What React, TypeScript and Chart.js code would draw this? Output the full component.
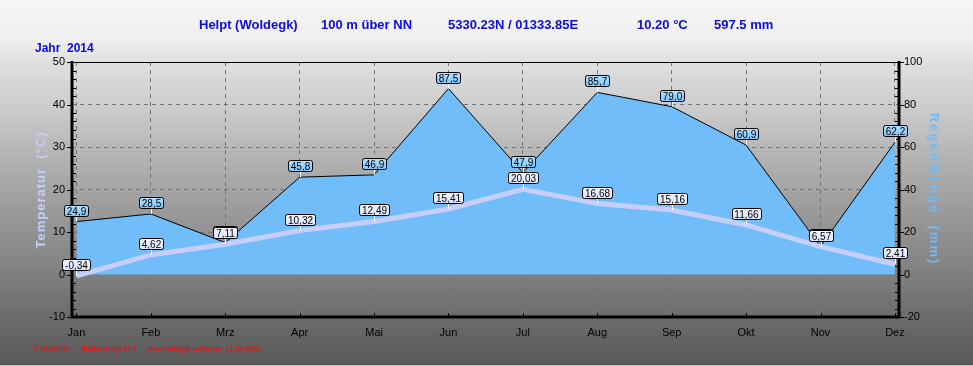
import React, { useEffect, useRef } from "react";
import { Chart, registerables } from "chart.js";

Chart.register(...registerables);

const months = ["Jan", "Feb", "Mrz", "Apr", "Mai", "Jun", "Jul", "Aug", "Sep", "Okt", "Nov", "Dez"];
const rain = [24.9, 28.5, 15.0, 45.8, 46.9, 87.5, 47.9, 85.7, 79.0, 60.9, 13.2, 62.2];
const temp = [-0.34, 4.62, 7.11, 10.32, 12.49, 15.41, 20.03, 16.68, 15.16, 11.66, 6.57, 2.41];
const tempTicks = { min: -10, max: 50, step: 10 };
const rainTicks = { min: -20, max: 100, step: 20 };
const titleParts = [
  { text: "Helpt (Woldegk)", x: 199 },
  { text: "100 m über NN", x: 321 },
  { text: "5330.23N / 01333.85E", x: 448 },
  { text: "10.20 °C", x: 637 },
  { text: "597.5 mm", x: 714 },
];
const yearLabel = "Jahr  2014";
const leftTitle = "Temperatur  (°C)";
const rightTitle = "Regenmenge  (mm)";
const footer = "© WsWin32  -  Station Helpt M-V  -  www.woldegk-wetter.de  11.04.2022";

const FONT = "'Liberation Sans', Arial, sans-serif";

function fmt(v: number, d: number) {
  return v.toFixed(d).replace(".", ",");
}

function drawLabel(ctx: CanvasRenderingContext2D, x: number, y: number, text: string, fill: string, fillTop: string) {
  ctx.save();
  ctx.font = `10px ${FONT}`;
  const w = Math.round(ctx.measureText(text).width) + 5;
  const h = 11;
  const bx = Math.round(x - w / 2) + 0.5;
  const by = Math.round(y - 6 - h) + 0.5;
  ctx.strokeStyle = "#ffffff";
  ctx.lineWidth = 1;
  ctx.beginPath();
  ctx.moveTo(Math.round(x) + 0.5, by + h);
  ctx.lineTo(Math.round(x) + 0.5, y);
  ctx.stroke();
  const g = ctx.createLinearGradient(0, by, 0, by + h);
  g.addColorStop(0, fillTop);
  g.addColorStop(1, fill);
  ctx.beginPath();
  (ctx as any).roundRect(bx, by, w, h, 2);
  ctx.fillStyle = g;
  ctx.fill();
  ctx.strokeStyle = "#000000";
  ctx.stroke();
  ctx.fillStyle = "#000000";
  ctx.textAlign = "center";
  ctx.textBaseline = "middle";
  ctx.fillText(text, Math.round(x) + 0.5, by + h / 2 + 1);
  ctx.restore();
}

const decorPlugin = {
  id: "decor",
  beforeDraw(chart: any) {
    const ctx = chart.ctx as CanvasRenderingContext2D;
    const H = chart.height;
    const g = ctx.createLinearGradient(0, 0, 0, H);
    const stops: [number, string][] = [
      [0, "#f6f6f6"], [40, "#efefef"], [62, "#e0e0e0"], [120, "#c6c6c6"],
      [180, "#a8a8a8"], [250, "#8a8a8a"], [316, "#6c6c6c"], [366, "#585858"],
    ];
    stops.forEach(([y, c]) => g.addColorStop(Math.min(1, y / H), c));
    ctx.save();
    ctx.fillStyle = g;
    ctx.fillRect(0, 0, chart.width, H);
    ctx.fillStyle = "#c4c4c4";
    ctx.fillRect(0, H - 1, chart.width, 1);
    ctx.restore();
  },
  afterDatasetsDraw(chart: any) {
    const ctx = chart.ctx as CanvasRenderingContext2D;
    const { left, right, top, bottom } = chart.chartArea;
    const yS = chart.scales.y;
    const y1S = chart.scales.y1;
    const xS = chart.scales.x;
    ctx.save();
    ctx.strokeStyle = "#000";
    ctx.lineWidth = 1;
    ctx.beginPath();
    ctx.moveTo(left, Math.round(top) + 0.5);
    ctx.lineTo(right, Math.round(top) + 0.5);
    ctx.stroke();
    ctx.lineWidth = 3;
    ctx.beginPath();
    ctx.moveTo(left, top - 1);
    ctx.lineTo(left, bottom + 1.5);
    ctx.moveTo(left - 1.5, bottom);
    ctx.lineTo(right + 1.5, bottom);
    ctx.moveTo(right, top - 1);
    ctx.lineTo(right, bottom + 1.5);
    ctx.stroke();
    ctx.lineWidth = 1;
    ctx.beginPath();
    for (let v = tempTicks.min; v <= tempTicks.max; v += 2) {
      const py = Math.round(yS.getPixelForValue(v)) + 0.5;
      if (v % tempTicks.step === 0) {
        ctx.moveTo(left - 5, py);
        ctx.lineTo(left, py);
      } else if (v > tempTicks.min && v < tempTicks.max) {
        ctx.moveTo(left, py);
        ctx.lineTo(left + 4, py);
      }
    }
    for (let v = rainTicks.min; v <= rainTicks.max; v += 4) {
      const py = Math.round(y1S.getPixelForValue(v)) + 0.5;
      if (v % rainTicks.step === 0) {
        ctx.moveTo(right, py);
        ctx.lineTo(right + 5, py);
      } else if (v > rainTicks.min && v < rainTicks.max) {
        ctx.moveTo(right - 4, py);
        ctx.lineTo(right, py);
      }
    }
    months.forEach((_, i) => {
      const px = Math.round(xS.getPixelForValue(i)) + 0.5;
      ctx.moveTo(px, bottom);
      ctx.lineTo(px, bottom - 4);
    });
    ctx.stroke();
    ctx.restore();

    const rainMeta = chart.getDatasetMeta(1);
    rainMeta.data.forEach((pt: any, i: number) => {
      drawLabel(ctx, pt.x, pt.y, fmt(rain[i], 1), "#7ec6ff", "#b4e0ff");
    });
    const tempMeta = chart.getDatasetMeta(0);
    tempMeta.data.forEach((pt: any, i: number) => {
      drawLabel(ctx, pt.x, pt.y, fmt(temp[i], 2), "#dde2ff", "#f4f6ff");
    });
  },
  afterDraw(chart: any) {
    const ctx = chart.ctx as CanvasRenderingContext2D;
    ctx.save();
    ctx.fillStyle = "#0a0ae6";
    ctx.textBaseline = "alphabetic";
    ctx.textAlign = "left";
    ctx.font = `bold 13px ${FONT}`;
    titleParts.forEach((p) => ctx.fillText(p.text, p.x, 29));
    ctx.font = `bold 12px ${FONT}`;
    ctx.fillText(yearLabel, 35, 52);

    ctx.font = `bold 13px ${FONT}`;
    ctx.textAlign = "center";
    ctx.textBaseline = "middle";
    ctx.save();
    ctx.translate(41, 190);
    ctx.rotate(-Math.PI / 2);
    ctx.fillStyle = "#c8cefa";
    (ctx as any).letterSpacing = "1px";
    ctx.fillText(leftTitle, 0, 0);
    ctx.restore();
    ctx.save();
    ctx.translate(934, 189);
    ctx.rotate(Math.PI / 2);
    ctx.fillStyle = "#6ebcfa";
    (ctx as any).letterSpacing = "2px";
    ctx.fillText(rightTitle, 0, 0);
    ctx.restore();

    ctx.font = `7.5px ${FONT}`;
    ctx.textAlign = "left";
    ctx.textBaseline = "alphabetic";
    ctx.fillStyle = "#ff0000";
    ctx.fillText(footer, 33, 351, 228);
    ctx.restore();
  },
};

export default function App() {
  const ref = useRef<HTMLCanvasElement | null>(null);
  useEffect(() => {
    document.body.style.margin = "0";
    const canvas = ref.current;
    if (!canvas) return;
    const chart = new Chart(canvas, {
      type: "line",
      data: {
        datasets: [
          {
            label: "Temperatur",
            data: temp.map((v, i) => ({ x: i, y: v })),
            yAxisID: "y",
            borderColor: "#c8cefb",
            borderWidth: 5,
            pointRadius: 0,
            fill: false,
            tension: 0,
          },
          {
            label: "Regenmenge",
            data: rain.map((v, i) => ({ x: i, y: v })),
            yAxisID: "y1",
            borderColor: "#000000",
            borderWidth: 1,
            backgroundColor: "#70bdf9",
            pointRadius: 0,
            fill: "origin",
            tension: 0,
          },
        ],
      },
      options: {
        responsive: false,
        animation: false,
        devicePixelRatio: 1,
        layout: { padding: { top: 62, left: 0, right: 0, bottom: 0 } },
        plugins: {
          legend: { display: false },
          tooltip: { enabled: false },
          title: { display: false },
        },
        scales: {
          x: {
            type: "linear",
            min: -0.06,
            max: 11.055,
            afterBuildTicks: (s: any) => {
              s.ticks = months.map((_, i) => ({ value: i }));
            },
            afterFit: (s: any) => {
              s.height = 49;
            },
            ticks: {
              callback: (v: any) => months[Math.round(Number(v))],
              font: { family: FONT, size: 11 },
              color: "#000",
              padding: 9,
              maxRotation: 0,
              autoSkip: false,
            },
            grid: { color: "#737373", lineWidth: 1, drawTicks: false },
            border: { display: false, dash: [4, 4] },
          },
          y: {
            position: "left",
            min: tempTicks.min,
            max: tempTicks.max,
            afterFit: (s: any) => {
              s.width = 72;
            },
            ticks: {
              stepSize: tempTicks.step,
              font: { family: FONT, size: 11 },
              color: "#000",
              padding: 7,
            },
            grid: { color: "#737373", lineWidth: 1, drawTicks: false },
            border: { display: false, dash: [4, 4] },
          },
          y1: {
            position: "right",
            min: rainTicks.min,
            max: rainTicks.max,
            afterFit: (s: any) => {
              s.width = 74;
            },
            ticks: {
              stepSize: rainTicks.step,
              font: { family: FONT, size: 11 },
              color: "#000",
              padding: 5,
            },
            grid: { display: false, drawTicks: false },
            border: { display: false },
          },
        },
      } as any,
      plugins: [decorPlugin],
    });
    return () => chart.destroy();
  }, []);
  return (
    <div style={{ width: 973, height: 366 }}>
      <canvas ref={ref} width={973} height={366} style={{ display: "block", width: 973, height: 366 }} />
    </div>
  );
}
